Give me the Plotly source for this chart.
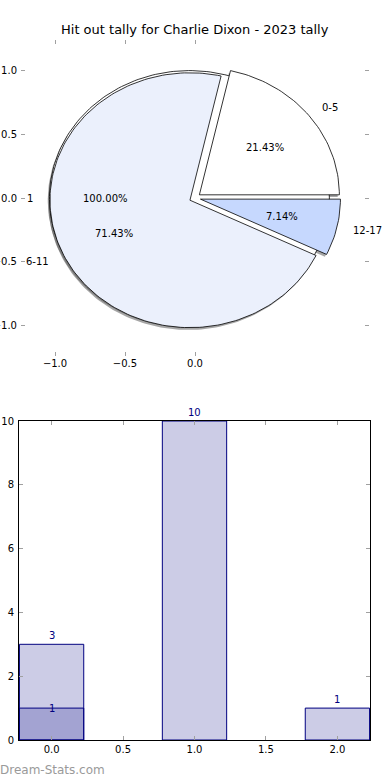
import numpy as np
import plotly.graph_objects as go

# ---------------- data ----------------
title_text = "Hit out tally for Charlie Dixon - 2023 tally"
outer_labels = ["1"]
outer_values = [1]
inner_labels = ["0-5", "6-11", "12-17"]
inner_values = [3, 10, 1]
inner_colors = ["#FFFFFF", "#EBF0FC", "#C6D8FE"]
outer_colors = ["#FFFFFF"]

bar_x_a = [0, 1, 2]
bar_vals_a = [3, 10, 1]
bar_x_b = [0]
bar_vals_b = [1]

pie_xticks = [-1.0, -0.5, 0.0]
pie_yticks = [-1.0, -0.5, 0.0, 0.5, 1.0]
bar_xticks = [0.0, 0.5, 1.0, 1.5, 2.0]
bar_yticks = [0, 2, 4, 6, 8, 10]

# ---------------- style ----------------
FONT = "DejaVu Sans"
EXPLODE = 0.04
LABEL_R = 1.1
PCT_R = 0.6
SHADOW_OFF = (-0.012, -0.018)
W, H = 390, 780


def wedge_poly(t1, t2, shift):
    n = max(4, int(abs(t2 - t1) / 1.5))
    ang = np.radians(np.linspace(t1, t2, n))
    mid = np.radians((t1 + t2) / 2)
    cx, cy = shift * np.cos(mid), shift * np.sin(mid)
    if abs(t2 - t1) >= 359.999:
        xs = cx + np.cos(ang)
        ys = cy + np.sin(ang)
    else:
        xs = np.concatenate([[cx], cx + np.cos(ang), [cx]])
        ys = np.concatenate([[cy], cy + np.sin(ang), [cy]])
    return xs, ys, mid


def pie_geometry(values):
    total = float(sum(values))
    out = []
    start = 0.0
    for v in values:
        span = 360.0 * v / total
        out.append((start, start + span, v / total))
        start += span
    return out


fig = go.Figure()
pies = [
    (outer_labels, outer_values, outer_colors),
    (inner_labels, inner_values, inner_colors),
]

# shadows first (below everything)
for labels, values, colors in pies:
    for (t1, t2, frac) in pie_geometry(values):
        xs, ys, _ = wedge_poly(t1, t2, EXPLODE)
        fig.add_trace(go.Scatter(
            x=xs + SHADOW_OFF[0], y=ys + SHADOW_OFF[1], mode="lines",
            fill="toself", fillcolor="rgba(77,77,77,0.5)",
            line=dict(width=0), hoverinfo="skip", showlegend=False,
            xaxis="x", yaxis="y"))

annotations = []
for labels, values, colors in pies:
    for lab, col, (t1, t2, frac) in zip(labels, colors, pie_geometry(values)):
        xs, ys, mid = wedge_poly(t1, t2, EXPLODE)
        fig.add_trace(go.Scatter(
            x=xs, y=ys, mode="lines", fill="toself", fillcolor=col,
            line=dict(color="black", width=0.8), hoverinfo="skip",
            showlegend=False, xaxis="x", yaxis="y"))
        lr = LABEL_R + EXPLODE
        lx, ly = lr * np.cos(mid), lr * np.sin(mid)
        annotations.append(dict(
            x=lx, y=ly, xref="x", yref="y", text=lab, showarrow=False,
            xanchor="left" if lx > 0 else "right", yanchor="middle",
            font=dict(family=FONT, size=10, color="black")))
        pr = PCT_R + EXPLODE
        annotations.append(dict(
            x=pr * np.cos(mid), y=pr * np.sin(mid), xref="x", yref="y",
            text="%.2f%%" % (100 * frac), showarrow=False,
            xanchor="center", yanchor="middle",
            font=dict(family=FONT, size=10, color="black")))

# bars
navy_fill = "rgba(0,0,128,0.2)"
fig.add_trace(go.Bar(
    x=bar_x_a, y=bar_vals_a, width=0.45, marker=dict(color=navy_fill,
    line=dict(color="#000080", width=1)), hoverinfo="skip",
    showlegend=False, xaxis="x2", yaxis="y2"))
fig.add_trace(go.Bar(
    x=bar_x_b, y=bar_vals_b, width=0.45, marker=dict(color=navy_fill,
    line=dict(color="#000080", width=1)), hoverinfo="skip",
    showlegend=False, xaxis="x2", yaxis="y2"))

for x, v in zip(bar_x_a, bar_vals_a):
    annotations.append(dict(
        x=x, y=v, xref="x2", yref="y2", text=str(v), showarrow=False,
        xanchor="center", yanchor="bottom", yshift=1,
        font=dict(family=FONT, size=10, color="#000080")))
for x, v in zip(bar_x_b, bar_vals_b):
    annotations.append(dict(
        x=x, y=v, xref="x2", yref="y2", text=str(v), showarrow=False,
        xanchor="center", yanchor="middle",
        font=dict(family=FONT, size=10, color="#000080")))

annotations.append(dict(
    x=0.5, y=1 - 30 / H, xref="paper", yref="paper", text=title_text,
    showarrow=False, xanchor="center", yanchor="middle",
    font=dict(family=FONT, size=13, color="black")))
annotations.append(dict(
    x=-2 / W, y=1 - 770 / H, xref="paper", yref="paper",
    text="Dream-Stats.com", showarrow=False, xanchor="left",
    yanchor="middle", font=dict(family=FONT, size=12, color="#9a9a9a")))

tick_common = dict(ticks="inside", ticklen=4, tickwidth=1,
                   tickcolor="#a0a0a0", showgrid=False, zeroline=False,
                   automargin=False,
                   tickfont=dict(family=FONT, size=10, color="black"),
                   tickformat=".1f", fixedrange=True)

fig.update_layout(
    width=W, height=H, margin=dict(l=0, r=0, t=0, b=0, autoexpand=False),
    paper_bgcolor="white", plot_bgcolor="white",
    barmode="overlay", annotations=annotations,
    xaxis=dict(domain=[21 / W, 369 / W], range=[-1.243, 1.243],
               tickvals=pie_xticks, showline=False, mirror="ticks",
               anchor="y", **tick_common),
    yaxis=dict(domain=[1 - 356 / H, 1 - 40 / H], range=[-1.24, 1.24],
               tickvals=pie_yticks, showline=False, mirror="ticks",
               anchor="x", ticklabelstandoff=3, **tick_common),
    xaxis2=dict(domain=[19 / W, 370 / W], range=[-0.228, 2.228],
                tickvals=bar_xticks, showline=True, linecolor="black",
                linewidth=1, mirror="ticks", anchor="y2", **tick_common),
    yaxis2=dict(domain=[1 - 740 / H, 1 - 421 / H], range=[0, 10],
                tickvals=bar_yticks, showline=True, linecolor="black",
                linewidth=1, mirror="ticks", anchor="x2",
                ticklabelstandoff=2,
                **{**tick_common, "tickformat": "d"}),
)

fig.write_html(
    "out.html",
    config={"displayModeBar": False},
    post_script="document.body.style.margin='0';"
                "document.documentElement.style.overflow='hidden';",
)
